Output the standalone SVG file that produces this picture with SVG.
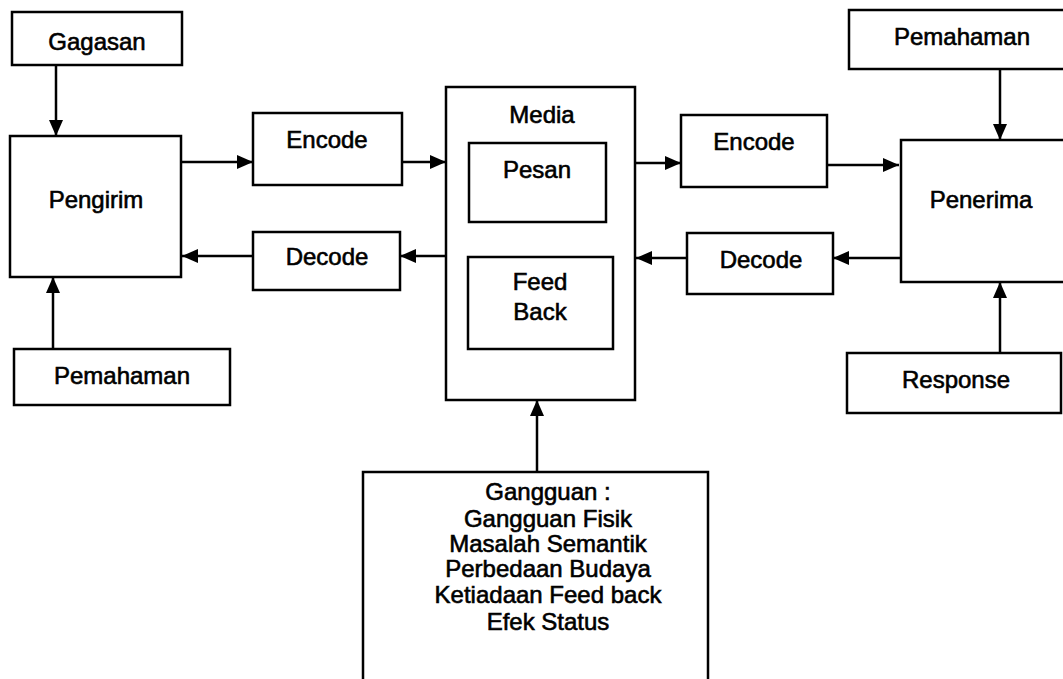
<svg xmlns="http://www.w3.org/2000/svg" width="1063" height="679" viewBox="0 0 1063 679">
<style>
.box{fill:#fff;stroke:#000;stroke-width:2.5}
.lbl{font-family:"Liberation Sans",Arial,sans-serif;font-size:24px;fill:#000;stroke:#000;stroke-width:0.6;text-anchor:middle}
.con{stroke:#000;stroke-width:2.5;fill:none;marker-end:url(#ah)}
</style>
<defs>
<marker id="ah" markerUnits="userSpaceOnUse" markerWidth="16" markerHeight="14" refX="16" refY="7" orient="auto">
<path d="M0,0 L16,7 L0,14 z" fill="#000"/>
</marker>
</defs>
<rect width="1063" height="679" fill="#fff"/>
<g id="connectors">
<line class="con" x1="56" y1="65" x2="56" y2="136"/>
<line class="con" x1="53" y1="349" x2="53" y2="277"/>
<line class="con" x1="181" y1="162" x2="253" y2="162"/>
<line class="con" x1="402" y1="162" x2="446" y2="162"/>
<line class="con" x1="446" y1="256" x2="400" y2="256"/>
<line class="con" x1="253" y1="256" x2="182" y2="256"/>
<line class="con" x1="635" y1="163" x2="681" y2="163"/>
<line class="con" x1="827" y1="165" x2="899" y2="165"/>
<line class="con" x1="907" y1="258" x2="833" y2="258"/>
<line class="con" x1="687" y1="258" x2="636" y2="258"/>
<line class="con" x1="1000" y1="69" x2="1000" y2="140"/>
<line class="con" x1="1000" y1="353" x2="1000" y2="282"/>
<line class="con" x1="537" y1="472" x2="537" y2="400"/>
</g>
<g id="gagasan"><rect class="box" x="12" y="12" width="170" height="53"/><text class="lbl" x="97" y="50">Gagasan</text></g>
<g id="pengirim"><rect class="box" x="10" y="136" width="171" height="141"/><text class="lbl" x="96" y="208">Pengirim</text></g>
<g id="pemahaman-kiri"><rect class="box" x="14" y="349" width="216" height="56"/><text class="lbl" x="122" y="384">Pemahaman</text></g>
<g id="encode-kiri"><rect class="box" x="253" y="113" width="149" height="72"/><text class="lbl" x="327" y="148">Encode</text></g>
<g id="decode-kiri"><rect class="box" x="253" y="232" width="147" height="58"/><text class="lbl" x="327" y="265">Decode</text></g>
<g id="media"><rect class="box" x="446" y="87" width="189" height="313"/><text class="lbl" x="542" y="123">Media</text></g>
<g id="pesan"><rect class="box" x="469" y="143" width="137" height="79"/><text class="lbl" x="537" y="178">Pesan</text></g>
<g id="feedback"><rect class="box" x="468" y="257" width="145" height="92"/><text class="lbl" x="540" y="290">Feed</text><text class="lbl" x="540" y="320">Back</text></g>
<g id="encode-kanan"><rect class="box" x="681" y="115" width="146" height="72"/><text class="lbl" x="754" y="150">Encode</text></g>
<g id="decode-kanan"><rect class="box" x="687" y="233" width="146" height="61"/><text class="lbl" x="761" y="268">Decode</text></g>
<g id="pemahaman-kanan"><rect class="box" x="849" y="10" width="230" height="59"/><text class="lbl" x="962" y="45">Pemahaman</text></g>
<g id="penerima"><rect class="box" x="901" y="140" width="180" height="142"/><text class="lbl" x="981" y="208">Penerima</text></g>
<g id="response"><rect class="box" x="847" y="353" width="214" height="60"/><text class="lbl" x="956" y="388">Response</text></g>
<g id="gangguan"><rect class="box" x="363" y="472" width="345" height="230"/>
<text class="lbl" x="548" y="500">Gangguan :</text>
<text class="lbl" x="548" y="527">Gangguan Fisik</text>
<text class="lbl" x="548" y="552">Masalah Semantik</text>
<text class="lbl" x="548" y="577">Perbedaan Budaya</text>
<text class="lbl" x="548" y="603">Ketiadaan Feed back</text>
<text class="lbl" x="548" y="630">Efek Status</text>
</g>
</svg>
